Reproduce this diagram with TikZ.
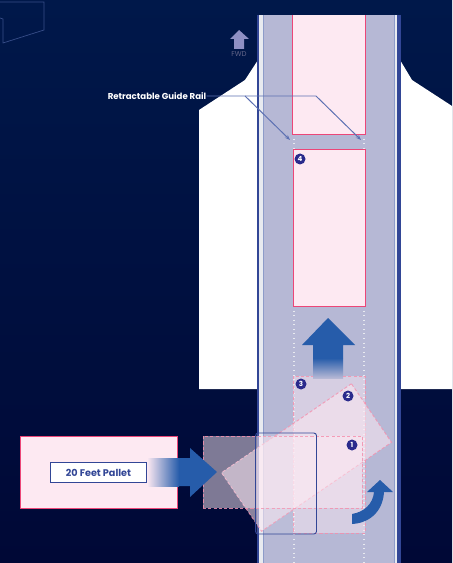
\documentclass[tikz,border=0pt]{standalone}
\usepackage{fontspec}
\setmainfont{Poppins}
\usepackage{xcolor}
\definecolor{dnavytop}{RGB}{0,24,74}
\definecolor{dnavybot}{RGB}{0,8,54}
\definecolor{dlane}{RGB}{182,184,213}
\definecolor{dedge}{RGB}{50,70,150}
\definecolor{dline}{RGB}{232,234,240}
\definecolor{dpink}{RGB}{253,233,242}
\definecolor{dred}{RGB}{236,70,120}
\definecolor{dblue}{RGB}{38,92,170}
\definecolor{dlead}{RGB}{92,112,178}
\definecolor{dbadge}{RGB}{42,42,140}
\definecolor{dfwd}{RGB}{142,144,196}
\usetikzlibrary{arrows.meta,positioning}
\tikzset{
  pallet/.style={draw=dred, fill=dpink, line width=0.55pt, inner sep=0pt,
                 minimum width=#1},
  ghost/.style={draw=dred!60!white, dash pattern=on 1.8pt off 1.2pt, line width=0.5pt,
                fill=dpink, fill opacity=#1, draw opacity=0.85, inner sep=0pt},
  badge/.style={circle, fill=dbadge, text=white, font=\fontsize{4}{4}\selectfont\bfseries,
                inner sep=0pt, minimum size=0.22cm},
  guide/.style={draw=dline, dotted, line width=0.6pt},
  leader/.style={draw=dlead, line width=0.55pt},
}
\begin{document}
\begin{tikzpicture}[x=0.02cm, y=-0.02cm]
\useasboundingbox (0,0) rectangle (452,563);

% background
\shade[top color=dnavytop, bottom color=dnavybot] (0,0) rectangle (452,563);

% outline top left
\draw[dlead!60!dnavytop, line width=0.4pt] (0,18) -- (3,19) -- (3,43) -- (44,30) -- (44,2) -- (0,2);

% white ground
\fill[white] (199,389) -- (199,110) -- (245,80) -- (258,60) -- (400,60) -- (412,80)
  -- (452,106) -- (452,389) -- cycle;

% lane
\fill[dedge] (257,15) rectangle (401,563);
\fill[dline] (259,15) rectangle (397,563);
\fill[dlane] (263,15) rectangle (394,563);
\draw[dlead!70!white, line width=0.4pt] (263,15) -- (263,563);
\draw[dlead!70!white, line width=0.4pt] (394,15) -- (394,563);

% guides
\draw[guide] (294,134) -- (294,149);
\draw[guide] (364,134) -- (364,149);
\draw[guide] (294,306) -- (294,563);
\draw[guide] (364,306) -- (364,563);

% parked pallets
\node[fill=dpink, inner sep=0pt, minimum width=1.44cm, minimum height=2.38cm] (top) at (329,74.5) {};
\draw[dred, line width=0.55pt] (top.north west) -- (top.south west) -- (top.south east) -- (top.north east);
\node[pallet=1.44cm, minimum height=3.14cm] (fourth) at (329,227.5) {};
\node[badge] (n4) at (300,159) {4};

% turning steps
\node[ghost=0.45, minimum width=1.44cm, minimum height=3.14cm] (third) at (329,454.5) {};
\node[ghost=0.55, minimum width=3.15cm, minimum height=1.42cm, rotate=34.4] (second) at (306.5,457.5) {};
\node[ghost=0.5, minimum width=3.18cm, minimum height=1.44cm] (first) at (282.5,472) {};
\node[badge] (n3) at (301,384) {3};
\node[badge] (n2) at (348,396) {2};
\node[badge] (n1) at (352,445) {1};

% rail box
\node[draw=dedge, fill=white, fill opacity=0.08, draw opacity=1, rounded corners=1.5pt,
      line width=0.5pt, inner sep=0pt, minimum width=1.22cm, minimum height=2.02cm] (rail) at (286,483.5) {};

% up arrow
\fill[dblue] (328,318) -- (355,345) -- (343,345) -- (343,358) -- (313,358) -- (313,345) -- (302,345) -- cycle;
\shade[top color=dblue, bottom color=dlane] (313,358) rectangle (343,378);

% turn arrow
\fill[dblue] (352,514) .. controls (364,512) and (373,504) .. (374,492) -- (367,492) -- (380,480)
  -- (393,492) -- (384,492) .. controls (383,510) and (371,523) .. (352,524) -- cycle;

% entry box
\node[pallet=3.14cm, minimum height=1.44cm] (entry) at (98.5,472) {};
\shade[left color=dpink, right color=dblue] (147,458) rectangle (179,486);
\fill[dblue] (179,458) -- (190,458) -- (190,448) -- (217,472) -- (190,497) -- (190,486) -- (179,486) -- cycle;
\node[draw=dedge, fill=white, line width=1.1pt, inner sep=0pt, minimum width=1.92cm, minimum height=0.4cm,
      text=dedge, font=\fontsize{5.5}{6}\selectfont\bfseries] (label) at (98.5,472.5) {20 Feet Pallet};

% forward mark
\fill[dfwd] (239,30) -- (249,39) -- (244,39) -- (244,49) -- (234,49) -- (234,39) -- (230,39) -- cycle;
\node[text=dfwd!70!black, font=\fontsize{4}{4}\selectfont] (fwd) at (239,54) {FWD};

% leader
\node[text=white, font=\fontsize{4.9}{5}\selectfont\bfseries, inner sep=0pt] (rail label) at (157,96) {Retractable Guide Rail};
\coordinate (railL) at (290,140);
\coordinate (railR) at (361,140);
\draw[leader, -{Stealth[length=3pt]}] (rail label.east) -- (316,96) -- (railR);
\draw[leader, -{Stealth[length=3pt]}] (245,96) -- (railL);
\end{tikzpicture}
\end{document}
